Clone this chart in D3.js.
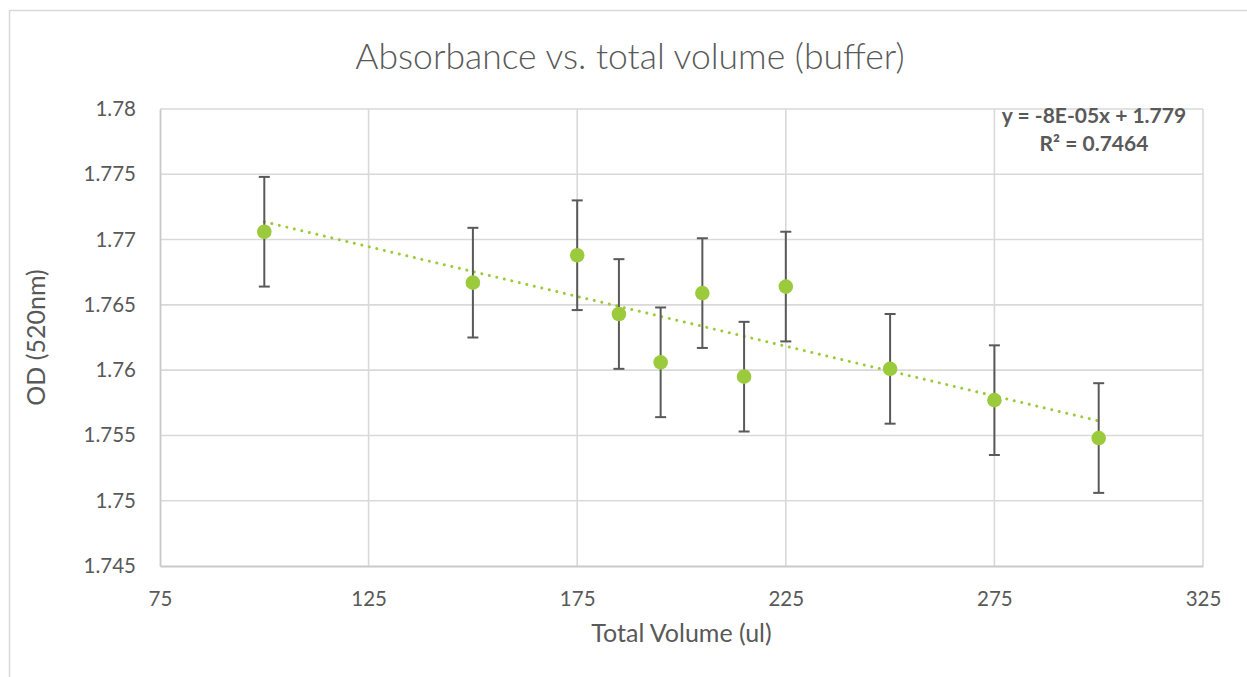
<!DOCTYPE html>
<html>
<head>
<meta charset="utf-8">
<script src="https://cdn.jsdelivr.net/npm/d3@7"></script>
<style>
  body { margin: 0; background: #fff; }
  svg { display: block; font-family: Lato, 'Open Sans', sans-serif; }
</style>
</head>
<body>
<div id="container"></div>
<script>
// values
const volumes = [100, 150, 175, 185, 195, 205, 215, 225, 250, 275, 300];
const absorbance = [1.7706, 1.7667, 1.7688, 1.7643, 1.7606, 1.7659, 1.7595, 1.7664, 1.7601, 1.7577, 1.7548];
const errors = [0.0042, 0.0042, 0.0042, 0.0042, 0.0042, 0.0042, 0.0042, 0.0042, 0.0042, 0.0042, 0.0042];
const xTicks = [75, 125, 175, 225, 275, 325];
const yTicks = [1.745, 1.75, 1.755, 1.76, 1.765, 1.77, 1.775, 1.78];
const trendLabel = ['y = -8E-05x + 1.779', 'R² = 0.7464'];

const W = 1247, H = 677;
const margin = { top: 109, right: 44, bottom: 111, left: 160 };
const width = W - margin.left - margin.right;
const height = H - margin.top - margin.bottom;
const green = '#9bcb3c';
const textColor = '#595959';

const svg = d3.select('#container').append('svg')
  .attr('width', W)
  .attr('height', H);

svg.append('rect')
  .attr('x', 9.5).attr('y', 10.5)
  .attr('width', W + 10).attr('height', H + 10)
  .attr('fill', '#fff')
  .attr('stroke', '#d9d9d9')
  .attr('stroke-width', 1.5);

const g = svg.append('g')
  .attr('transform', `translate(${margin.left}, ${margin.top})`);

const x = d3.scaleLinear().domain([75, 325]).range([0, width]);
const y = d3.scaleLinear().domain([1.745, 1.78]).range([height, 0]);

// gridlines
g.append('g').selectAll('line.h')
  .data(yTicks.slice(1))
  .enter().append('line')
  .attr('x1', 0).attr('x2', width)
  .attr('y1', (d) => y(d)).attr('y2', (d) => y(d))
  .attr('stroke', '#d9d9d9').attr('stroke-width', 1.6);

g.append('g').selectAll('line.v')
  .data(xTicks.slice(1))
  .enter().append('line')
  .attr('x1', (d) => x(d)).attr('x2', (d) => x(d))
  .attr('y1', 0).attr('y2', height)
  .attr('stroke', '#d9d9d9').attr('stroke-width', 1.6);

// axes
const xAxis = g.append('g')
  .attr('transform', `translate(0, ${height})`)
  .call(d3.axisBottom(x).tickValues(xTicks).tickSize(0).tickPadding(25).tickFormat(d3.format('d')));
const yAxis = g.append('g')
  .call(d3.axisLeft(y).tickValues(yTicks).tickSize(0).tickPadding(24).tickFormat((d) => String(+d.toFixed(3))));

[xAxis, yAxis].forEach((a) => {
  a.select('.domain').attr('stroke', '#c9c9c9').attr('stroke-width', 1.8);
  a.selectAll('text')
    .attr('fill', textColor)
    .style('font-size', '20.5px')
    .style('font-family', 'Lato, sans-serif');
});

// trendline (least squares from the data)
const mx = d3.mean(volumes), my = d3.mean(absorbance);
let sxy = 0, sxx = 0;
volumes.forEach((v, i) => {
  sxy += (v - mx) * (absorbance[i] - my);
  sxx += (v - mx) * (v - mx);
});
const slope = sxy / sxx;
const intercept = my - slope * mx;
const x0 = d3.min(volumes), x1 = d3.max(volumes);

g.append('line')
  .attr('x1', x(x0)).attr('y1', y(intercept + slope * x0))
  .attr('x2', x(x1)).attr('y2', y(intercept + slope * x1))
  .attr('stroke', green)
  .attr('stroke-width', 3)
  .attr('stroke-linecap', 'round')
  .attr('stroke-dasharray', '0.01 7.7');

// error bars
const pts = volumes.map((v, i) => ({ v, a: absorbance[i], e: errors[i] }));
const eb = g.append('g').attr('stroke', '#595959').attr('stroke-width', 2);
eb.selectAll('line.bar').data(pts).enter().append('line')
  .attr('x1', (d) => x(d.v)).attr('x2', (d) => x(d.v))
  .attr('y1', (d) => y(d.a + d.e)).attr('y2', (d) => y(d.a - d.e));
eb.selectAll('line.top').data(pts).enter().append('line')
  .attr('x1', (d) => x(d.v) - 5.5).attr('x2', (d) => x(d.v) + 5.5)
  .attr('y1', (d) => y(d.a + d.e)).attr('y2', (d) => y(d.a + d.e));
eb.selectAll('line.bot').data(pts).enter().append('line')
  .attr('x1', (d) => x(d.v) - 5.5).attr('x2', (d) => x(d.v) + 5.5)
  .attr('y1', (d) => y(d.a - d.e)).attr('y2', (d) => y(d.a - d.e));

// markers
g.append('g').selectAll('circle')
  .data(pts).enter().append('circle')
  .attr('cx', (d) => x(d.v))
  .attr('cy', (d) => y(d.a))
  .attr('r', 7.3)
  .attr('fill', green);

// titles
svg.append('text')
  .attr('x', 630).attr('y', 69)
  .attr('text-anchor', 'middle')
  .attr('fill', textColor)
  .style('font-size', '35.5px')
  .style('font-weight', 300)
  .text('Absorbance vs. total volume (buffer)');

svg.append('text')
  .attr('x', margin.left + width / 2).attr('y', 642)
  .attr('text-anchor', 'middle')
  .attr('fill', textColor)
  .style('font-size', '25px')
  .text('Total Volume (ul)');

svg.append('text')
  .attr('transform', `translate(45, ${margin.top + height / 2}) rotate(-90)`)
  .attr('text-anchor', 'middle')
  .attr('fill', textColor)
  .style('font-size', '25px')
  .text('OD (520nm)');

svg.append('g').selectAll('text')
  .data(trendLabel).enter().append('text')
  .attr('x', 1094)
  .attr('y', (d, i) => 123 + i * 28)
  .attr('text-anchor', 'middle')
  .attr('fill', textColor)
  .style('font-size', '21px')
  .style('font-weight', 700)
  .text((d) => d);
</script>
</body>
</html>
